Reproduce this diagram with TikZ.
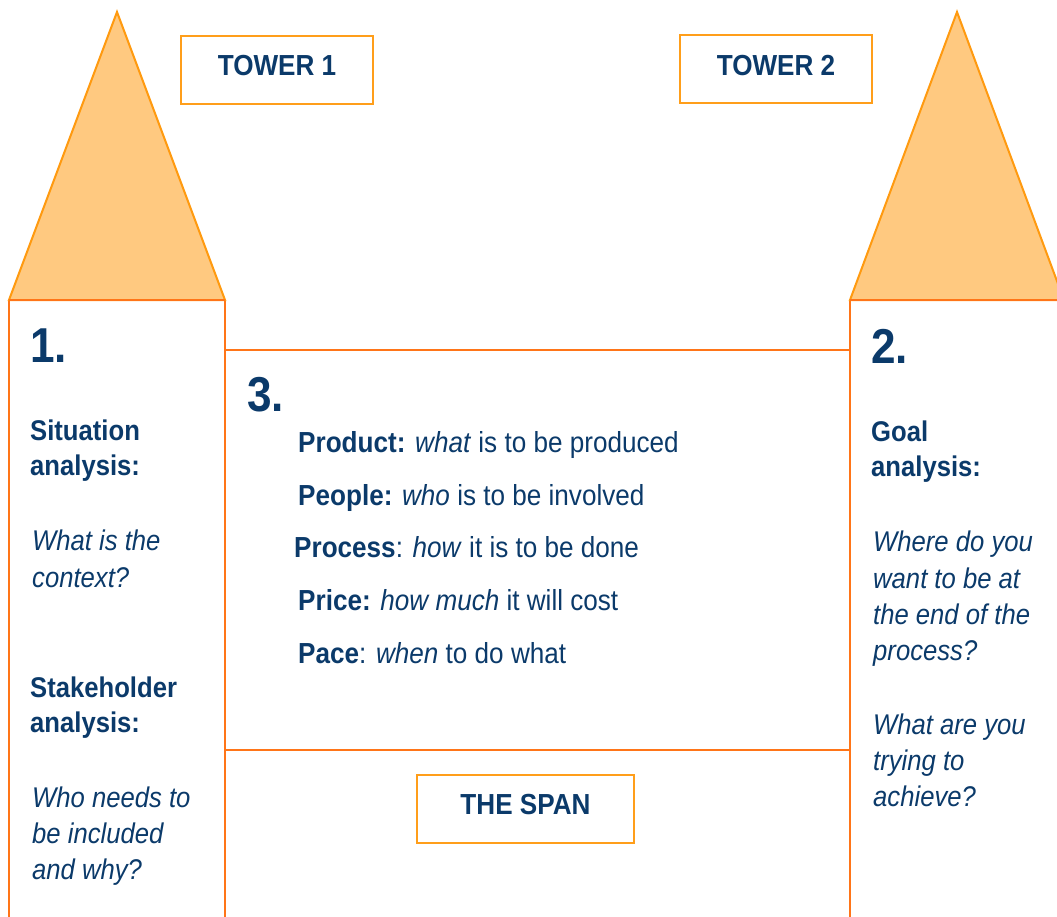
\documentclass[tikz,border=0pt]{standalone}
\usepackage{fontspec}
\setmainfont{Liberation Sans}[FakeStretch=0.9]
\definecolor{navy}{HTML}{0B3A6A}
\definecolor{roofFill}{HTML}{FFC980}
\definecolor{roofLine}{HTML}{FF9A10}
\definecolor{wallLine}{HTML}{FF7518}
\definecolor{boxLine}{HTML}{FF9E1A}
\tikzset{
  roof/.style={fill=roofFill, draw=roofLine, line width=2pt, line join=miter},
  wall/.style={draw=wallLine, line width=2pt},
  labelbox/.style={draw=boxLine, line width=2pt, minimum width=192pt, minimum height=68pt,
    inner sep=0pt, text depth=9pt, text=navy, font=\fontsize{29}{35}\selectfont\bfseries},
  num/.style={anchor=base west, inner sep=0pt, text=navy, font=\fontsize{49}{60}\selectfont\bfseries},
  head/.style={anchor=base west, inner sep=0pt, text=navy, font=\fontsize{28.5}{35}\selectfont\bfseries},
  ital/.style={anchor=base west, inner sep=0pt, text=navy, font=\fontsize{28.5}{35}\selectfont\itshape},
  item/.style={anchor=base west, inner sep=0pt, text=navy, font=\fontsize{29}{35}\selectfont},
}
\begin{document}
\begin{tikzpicture}[x=1pt,y=-1pt]
\clip (0,0) rectangle (1057,917);
% walls
\draw[wall] (9,300) -- (9,930);
\draw[wall] (225,300) -- (225,930);
\draw[wall] (850,300) -- (850,930);
\draw[wall] (225,350) -- (850,350);
\draw[wall] (225,750) -- (850,750);
% roofs
\draw[roof] (9,300) -- (117,12) -- (225,300) -- cycle;
\draw[roof] (850,300) -- (957,12) -- (1064,300) -- cycle;
\draw[wall] (9,300) -- (225,300);
\draw[wall] (850,300) -- (1070,300);
% label boxes
\node[labelbox] (t1) at (277,70) {TOWER 1};
\node[labelbox] (t2) at (776,69.5) {TOWER 2};
\node[labelbox, minimum width=217pt] (span) at (525.5,809) {THE SPAN};
% numbers
\node[num] (n1) at (30,362) {1.};
\node[num] (n2) at (871,363) {2.};
\node[num] (n3) at (247,411) {3.};
% left column
\node[head] (l1) at (30,440) {Situation};
\node[head] (l2) at (30,475) {analysis:};
\node[ital] (l3) at (32,550) {What is the};
\node[ital] (l4) at (32,587) {context?};
\node[head] (l5) at (30,697) {Stakeholder};
\node[head] (l6) at (30,732) {analysis:};
\node[ital] (l7) at (32,807) {Who needs to};
\node[ital] (l8) at (32,843) {be included};
\node[ital] (l9) at (32,879) {and why?};
% right column
\node[head] (r1) at (871,441) {Goal};
\node[head] (r2) at (871,476) {analysis:};
\node[ital] (r3) at (873,551) {Where do you};
\node[ital] (r4) at (873,588) {want to be at};
\node[ital] (r5) at (873,624) {the end of the};
\node[ital] (r6) at (873,660) {process?};
\node[ital] (r7) at (873,734) {What are you};
\node[ital] (r8) at (873,770) {trying to};
\node[ital] (r9) at (873,806) {achieve?};
% middle items
\node[item] (m1) at (298,452) {\textbf{Product:} \textit{what} is to be produced};
\node[item] (m2) at (298,505) {\textbf{People:} \textit{who} is to be involved};
\node[item] (m3) at (294,557) {\textbf{Process}: \textit{how} it is to be done};
\node[item] (m4) at (298,610) {\textbf{Price:} \textit{how much} it will cost};
\node[item] (m5) at (298,663) {\textbf{Pace}: \textit{when} to do what};
\end{tikzpicture}
\end{document}
